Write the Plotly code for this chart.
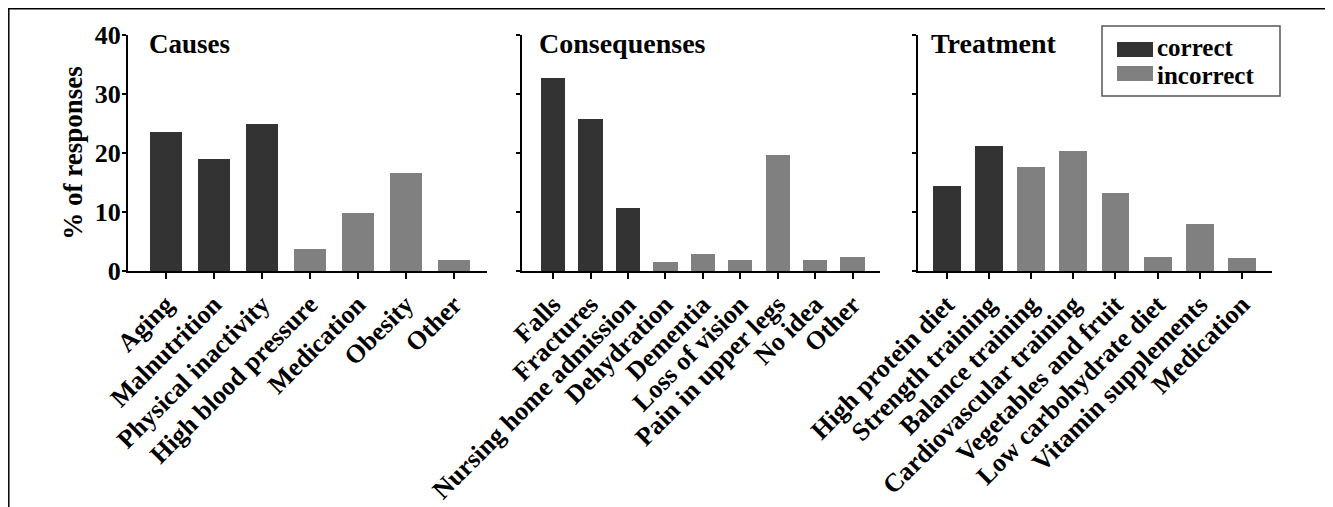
import plotly.graph_objects as go

OFF = 8  # default page body margin
W, H = 1333 - OFF, 507 - OFF

causes = ["Aging", "Malnutrition", "Physical inactivity", "High blood pressure",
          "Medication", "Obesity", "Other"]
causes_vals = [23.6, 19.0, 25.0, 3.7, 9.8, 16.6, 1.9]
causes_ok = [True, True, True, False, False, False, False]

conseq = ["Falls", "Fractures", "Nursing home admission", "Dehydration", "Dementia",
          "Loss of vision", "Pain in upper legs", "No idea", "Other"]
conseq_vals = [32.7, 25.7, 10.6, 1.5, 2.9, 1.8, 19.7, 1.8, 2.4]
conseq_ok = [True, True, True, False, False, False, False, False, False]

treat = ["High protein diet", "Strength training", "Balance training",
         "Cardiovascular training", "Vegetables and fruit", "Low carbohydrate diet",
         "Vitamin supplements", "Medication"]
treat_vals = [14.4, 21.2, 17.7, 20.3, 13.3, 2.3, 8.0, 2.15]
treat_ok = [True, True, False, False, False, False, False, False]

panel_titles = ["Causes", "Consequenses", "Treatment"]
legend_labels = ["correct", "incorrect"]
y_ticks = [0, 10, 20, 30, 40]

DARK = "#333333"
GRAY = "#808080"
FONT = "Liberation Serif, Times New Roman, serif"

def px_x(p):
    return (p - OFF) / W

def px_y(p):
    return 1 - (p - OFF) / H

panels = [
    (causes, causes_vals, causes_ok, (128, 487), (-0.79, 6.69), 0.67),
    (conseq, conseq_vals, conseq_ok, (522, 880), (-0.83, 8.73), 0.65),
    (treat, treat_vals, treat_ok, (918, 1272), (-0.68, 7.71), 0.66),
]

fig = go.Figure()
y_dom = [px_y(271), px_y(35)]

for i, (cats, vals, ok, (x0, x1), rng, bw) in enumerate(panels):
    n = i + 1
    xa = "x" if n == 1 else f"x{n}"
    ya = "y" if n == 1 else f"y{n}"
    fig.add_trace(go.Bar(
        x=cats, y=vals, width=bw,
        marker=dict(color=[DARK if o else GRAY for o in ok], line=dict(width=0)),
        xaxis=xa, yaxis=ya, showlegend=False,
    ))
    xkey = "xaxis" if n == 1 else f"xaxis{n}"
    ykey = "yaxis" if n == 1 else f"yaxis{n}"
    fig.layout[xkey] = dict(
        domain=[px_x(x0), px_x(x1)], range=list(rng), anchor=ya,
        type="category", showline=True, linecolor="black", linewidth=2,
        ticks="outside", ticklen=6, tickwidth=2, tickcolor="black",
        tickangle=-45, showgrid=False, zeroline=False,
        tickfont=dict(family=FONT, size=26, color="black", weight="bold"),
    )
    ydict = dict(
        domain=y_dom, range=[0, 40], anchor=xa,
        showline=True, linecolor="black", linewidth=2,
        ticks="outside", ticklen=4, tickwidth=2, tickcolor="black",
        tickvals=y_ticks, showgrid=False, zeroline=False,
        showticklabels=(n == 1), ticklabelstandoff=-4,
        tickfont=dict(family=FONT, size=26, color="black", weight="bold"),
    )
    if n == 1:
        ydict["title"] = dict(text="% of responses", standoff=4,
                              font=dict(family=FONT, size=27, color="black", weight="bold"))
    fig.layout[ykey] = ydict

# panel titles
for t, xl, fs in zip(panel_titles, [147, 537, 929], [27, 28, 28]):
    fig.add_annotation(x=px_x(xl), y=px_y(44), xref="paper", yref="paper",
                       text=t, showarrow=False, xanchor="left", yanchor="middle",
                       font=dict(family=FONT, size=fs, color="black", weight="bold"))

# legend box
shapes = [
    dict(type="rect", xref="paper", yref="paper", x0=px_x(1102), x1=px_x(1280),
         y0=px_y(96), y1=px_y(26), line=dict(color="#555555", width=1.5), fillcolor="white"),
    dict(type="rect", xref="paper", yref="paper", x0=px_x(1117), x1=px_x(1153),
         y0=px_y(57), y1=px_y(42), line=dict(width=0), fillcolor=DARK),
    dict(type="rect", xref="paper", yref="paper", x0=px_x(1117), x1=px_x(1153),
         y0=px_y(81), y1=px_y(66), line=dict(width=0), fillcolor=GRAY),
    # frame lines
    dict(type="line", xref="paper", yref="paper", x0=0, x1=1,
         y0=1 - 0.8 / H, y1=1 - 0.8 / H, line=dict(color="black", width=1.5)),
    dict(type="line", xref="paper", yref="paper", x0=0.8 / W, x1=0.8 / W,
         y0=1, y1=0, line=dict(color="black", width=1.5)),
]
fig.update_layout(shapes=shapes)
for lab, yc in zip(legend_labels, [47.5, 75.5]):
    fig.add_annotation(x=px_x(1156), y=px_y(yc), xref="paper", yref="paper",
                       text=lab, showarrow=False, xanchor="left", yanchor="middle",
                       borderpad=0,
                       font=dict(family=FONT, size=25, color="black", weight="bold"))

fig.update_layout(
    width=W, height=H, margin=dict(l=0, r=0, t=0, b=0, autoexpand=False),
    paper_bgcolor="white", plot_bgcolor="white", bargap=0,
    font=dict(family=FONT, color="black"),
)

fig.write_html("out.html")
